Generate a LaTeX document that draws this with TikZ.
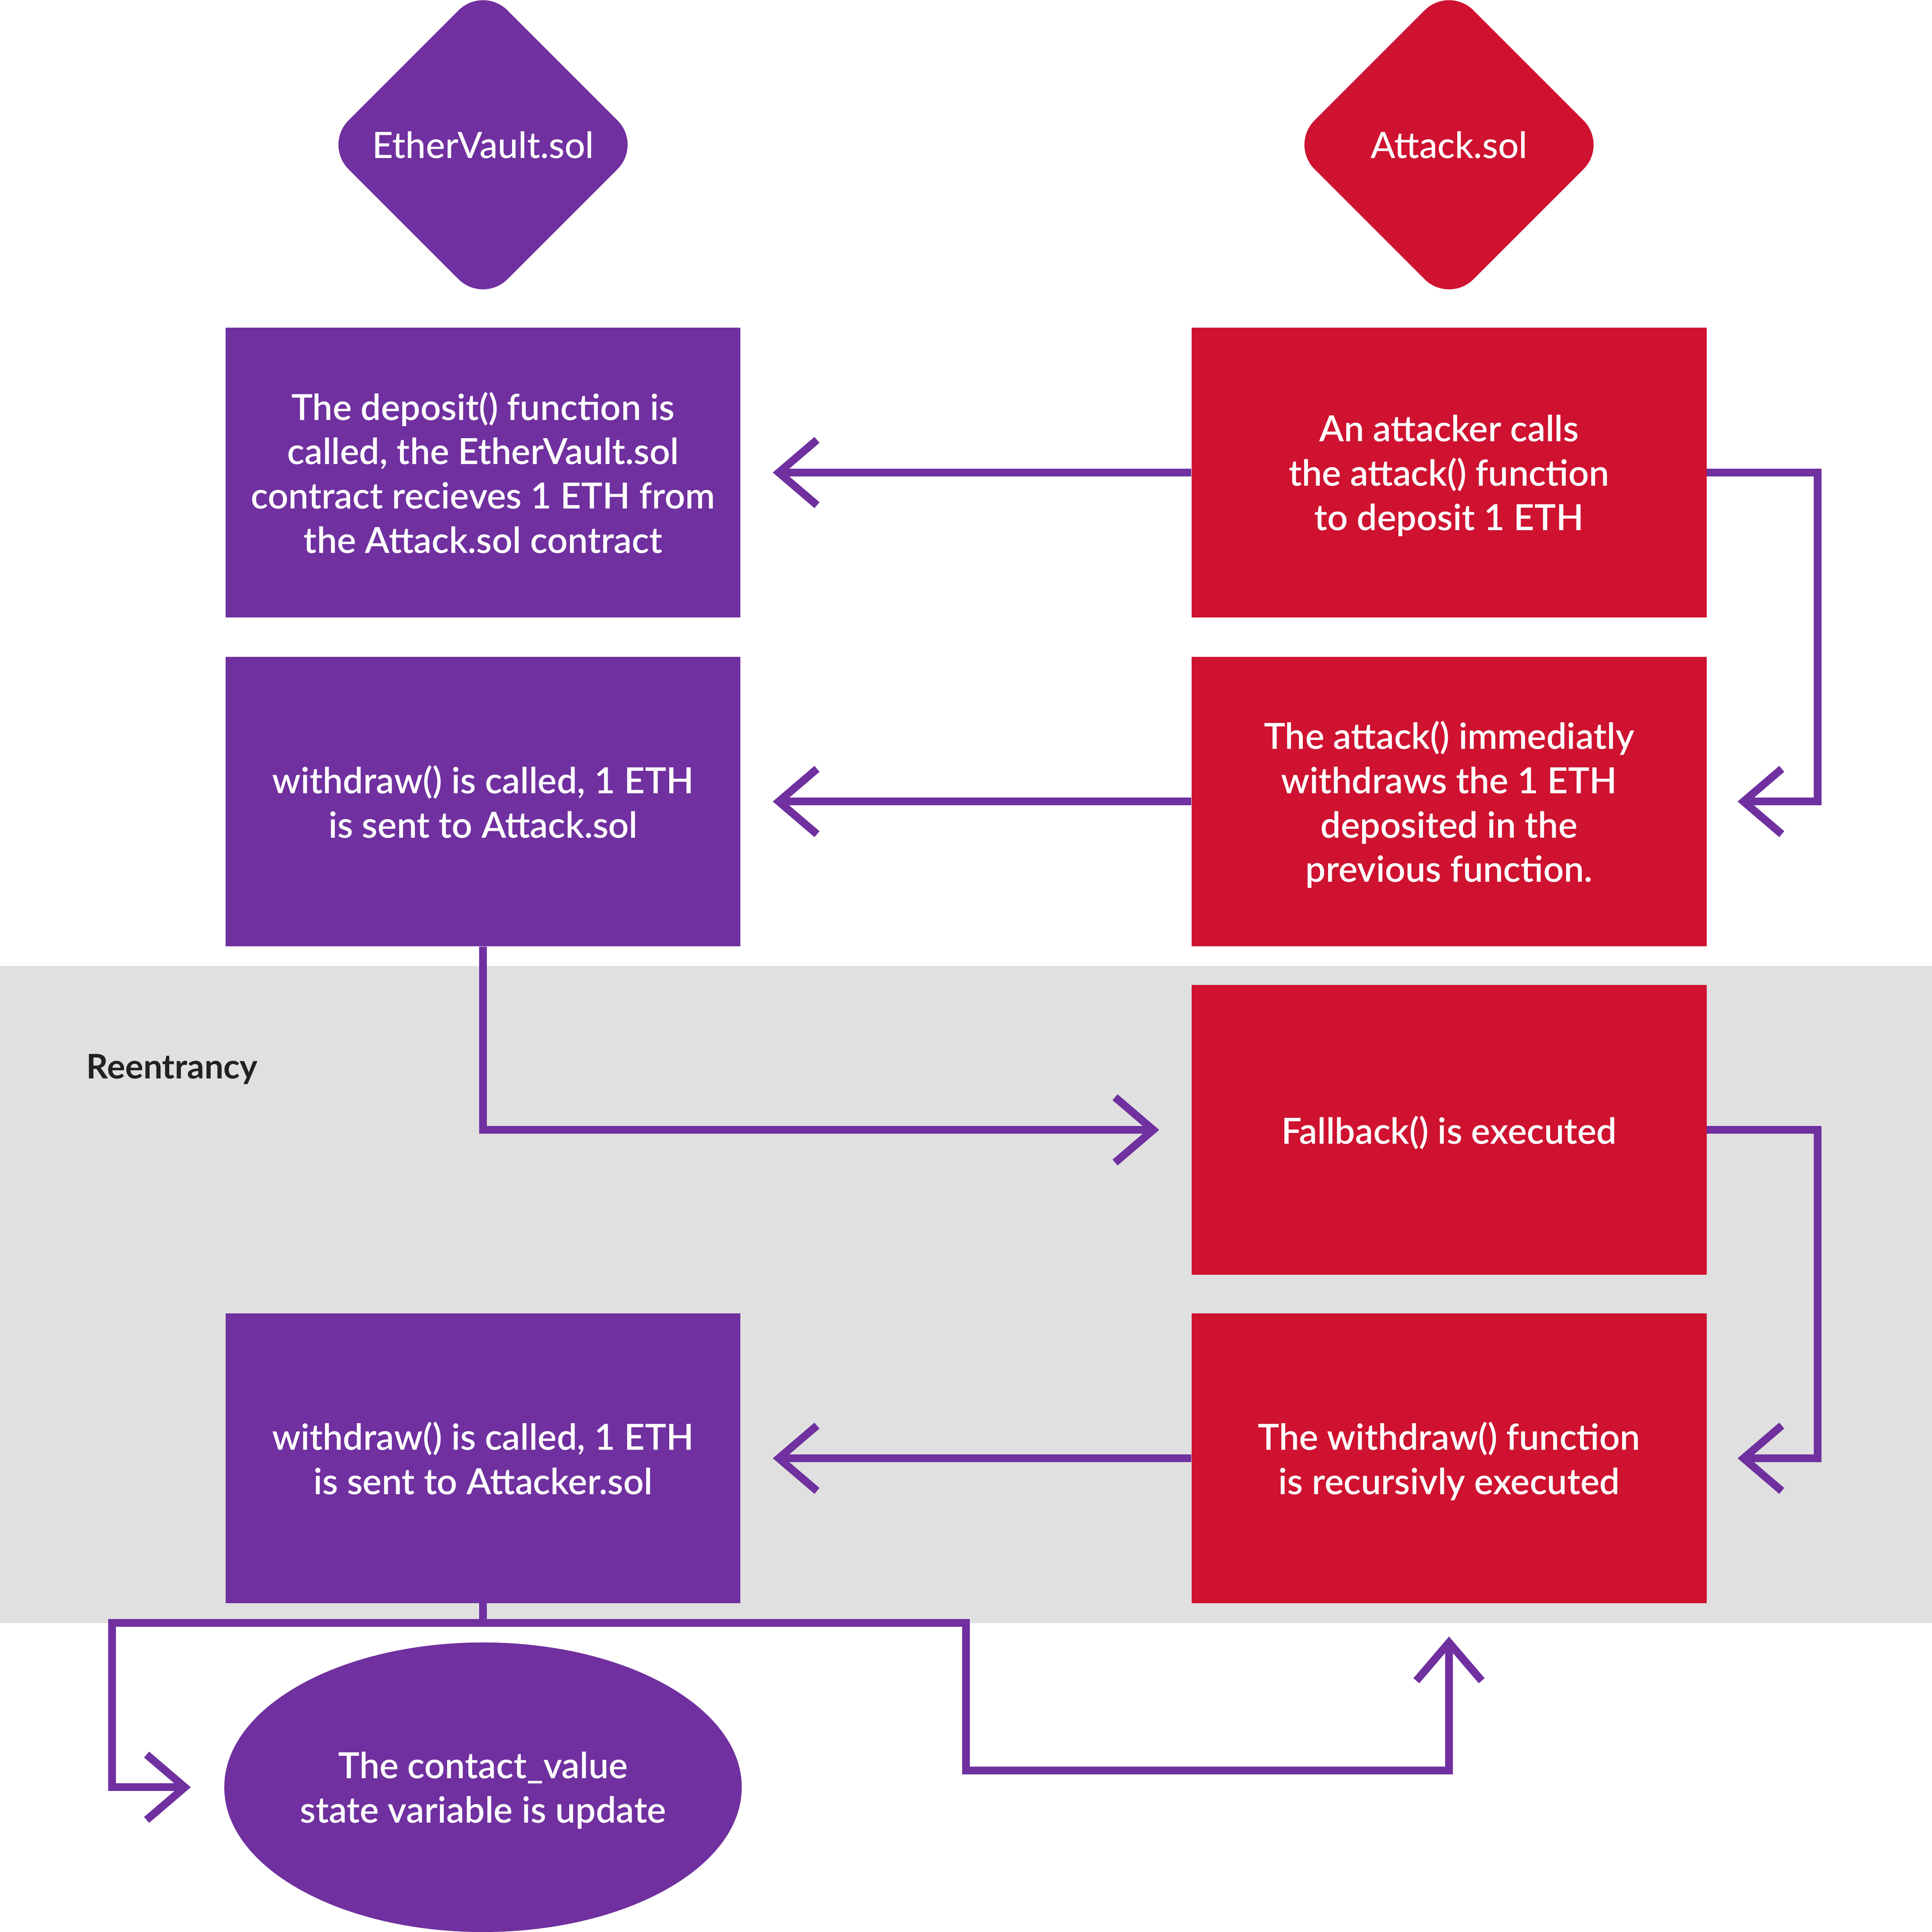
\documentclass[tikz,border=0pt]{standalone}
\usepackage{fontspec}
\setmainfont{Lato}
\newfontfamily\semib{Lato Semibold}
\newfontfamily\medf{Lato Medium}
\newfontfamily\boldf{Lato Bold}
\usetikzlibrary{shapes.geometric,arrows.meta,calc}
\definecolor{vpurple}{HTML}{70309F}
\definecolor{vred}{HTML}{CE1230}
\definecolor{vgray}{HTML}{E0E0E0}
\definecolor{vdark}{HTML}{222222}
\begin{document}
\begin{tikzpicture}[x=1pt,y=-1pt,
  boxtext/.style={text=white, align=center, inner sep=0, text depth=0pt, font=\semib\fontsize{29.2}{36}\selectfont},
  boxp/.style={rectangle, fill=vpurple, minimum width=418, minimum height=235, boxtext},
  boxr/.style={rectangle, fill=vred, minimum width=418, minimum height=235, boxtext},
  ellp/.style={ellipse, fill=vpurple, minimum width=418, minimum height=235, boxtext},
  diam/.style={diamond, aspect=1, minimum width=258, minimum height=258, rounded corners=28, inner sep=0, text=white, font=\medf\fontsize{29.5}{36}\selectfont},
  line/.style={draw=vpurple, line width=6.3, line join=miter},
  conn/.style={line, -{Straight Barb[sharp, length=31, width=53]}},
]
\useasboundingbox (0,0) rectangle (1568,1568);
\fill[white] (0,0) rectangle (1568,1568);
\fill[vgray] (0,784) rectangle (1568,1317);

\node[diam, fill=vpurple] (d1) at (392,117.5) {EtherVault.sol};
\node[diam, fill=vred] (d2) at (1176,117.5) {Attack.sol};

\node[boxp] (p1) at (392,383.5) {The deposit() function is\\called, the EtherVault.sol\\contract recieves 1 ETH from\\the Attack.sol contract};
\node[boxr] (r1) at (1176,383.5) {An attacker calls\\the attack() function\\to deposit 1 ETH};
\node[boxp] (p2) at (392,650.5) {withdraw() is called, 1 ETH\\is sent to Attack.sol};
\node[boxr] (r2) at (1176,650.5) {The attack() immediatly\\withdraws the 1 ETH\\deposited in the\\previous function.};
\node[boxr] (r3) at (1176,917) {Fallback() is executed};
\node[boxp] (p3) at (392,1183.5) {withdraw() is called, 1 ETH\\is sent to Attacker.sol};
\node[boxr] (r4) at (1176,1183.5) {The withdraw() function\\is recursivly executed};
\node[ellp] (e1) at (392,1450.5) {The contact\_value\\state variable is update};

\node[anchor=base west, inner sep=0, text=vdark, font=\boldf\fontsize{27.5}{36}\selectfont] (reen) at (70,875.5) {Reentrancy};

\draw[conn] (r1.west) -- ($(p1.east)+(26,0)$);
\draw[conn] (r1.east) -- ++(90,0) |- ($(r2.east)+(25,0)$);
\draw[conn] (r2.west) -- ($(p2.east)+(26,0)$);
\draw[conn] (p2.south) |- ($(r3.west)+(-26,0)$);
\draw[conn] (r3.east) -- ++(90,0) |- ($(r4.east)+(25,0)$);
\draw[conn] (r4.west) -- ($(p3.east)+(26,0)$);
\coordinate (j) at (392,1317);
\draw[line] (p3.south) -- (j);
\draw[conn] (j) -- (91,1317) |- ($(e1.west)+(-27,0)$);
\draw[conn] (j) -- (784,1317) -- (784,1437) -| ($(r4.south)+(0,27)$);
\end{tikzpicture}
\end{document}
